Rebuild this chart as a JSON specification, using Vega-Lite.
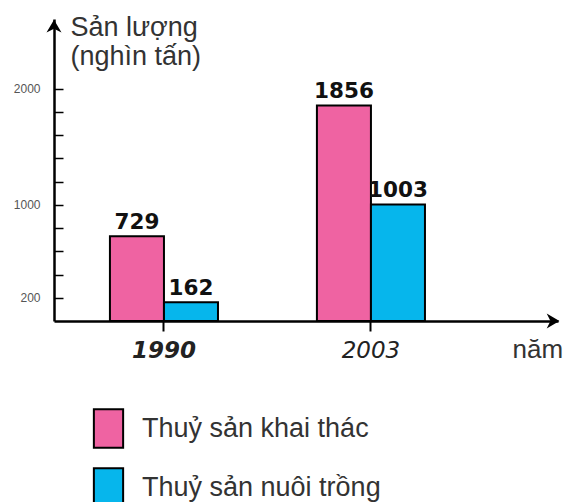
{
  "$schema": "https://vega.github.io/schema/vega-lite/v6.json",
  "autosize": "none",
  "width": 504,
  "height": 302,
  "padding": {"left": 54, "top": 19, "right": 10, "bottom": 181},
  "background": "white",
  "config": {
    "view": {"stroke": null},
    "font": "Liberation Sans"
  },
  "resolve": {"scale": {"x": "independent"}, "axis": {"x": "independent"}},
  "layer": [
    {
      "data": {
        "values": [
          {"year": "1990", "type": "Thuỷ sản khai thác", "value": 729},
          {"year": "1990", "type": "Thuỷ sản nuôi trồng", "value": 162},
          {"year": "2003", "type": "Thuỷ sản khai thác", "value": 1856},
          {"year": "2003", "type": "Thuỷ sản nuôi trồng", "value": 1003}
        ]
      },
      "layer": [
        {
          "mark": {"type": "bar", "stroke": "black", "strokeWidth": 2},
          "encoding": {
            "x": {
              "field": "year", "type": "nominal",
              "scale": {"paddingInner": 0.478, "paddingOuter": 0.4565, "align": 0.296},
              "axis": {
                "title": "năm",
                "titleX": 458, "titleY": 36, "titleAlign": "left", "titleBaseline": "alphabetic",
                "titleFont": "Liberation Sans", "titleFontSize": 26, "titleFontWeight": "normal", "titleColor": "#333",
                "labelAngle": 0,
                "labelFont": "DejaVu Sans", "labelFontSize": 23, "labelFontStyle": "italic",
                "labelFontWeight": {"condition": {"test": "datum.label == '1990'", "value": "bold"}, "value": "normal"},
                "labelColor": "#222", "labelBaseline": "alphabetic", "labelPadding": 26,
                "domainColor": "black", "domainWidth": 2.5,
                "tickColor": "black", "tickWidth": 2, "tickSize": 10
              }
            },
            "xOffset": {"field": "type", "type": "nominal", "scale": {"paddingInner": 0, "paddingOuter": 0}},
            "y": {
              "field": "value", "type": "quantitative",
              "scale": {"domain": [0, 2600], "nice": false, "zero": true},
              "axis": {
                "title": ["Sản lượng", "(nghìn tấn)"],
                "titleAngle": 0, "titleX": 16, "titleY": 16, "titleAlign": "left", "titleBaseline": "alphabetic",
                "titleFont": "Liberation Sans", "titleFontSize": 27, "titleFontWeight": "normal", "titleColor": "#333", "titleLineHeight": 29,
                "values": [200, 400, 600, 800, 1000, 1200, 1400, 1600, 1800, 2000],
                "tickCount": 20,
                "labelExpr": "(datum.value == 200 || datum.value == 1000 || datum.value == 2000) ? datum.label : ''",
                "labelOverlap": false,
                "format": "d",
                "labelFont": "Liberation Sans", "labelFontSize": 12, "labelColor": "#555",
                "tickSize": -9, "labelPadding": 23,
                "tickColor": "black", "tickWidth": 1.5,
                "domainColor": "black", "domainWidth": 2.5,
                "grid": false
              }
            },
            "color": {
              "field": "type", "type": "nominal",
              "scale": {"domain": ["Thuỷ sản khai thác", "Thuỷ sản nuôi trồng"], "range": ["#EF63A2", "#06B6EC"]},
              "legend": {
                "orient": "none", "legendX": 34, "legendY": 389, "direction": "vertical",
                "title": null, "padding": 0,
                "symbolType": "M-0.76,-1L0.76,-1L0.76,1L-0.76,1Z", "symbolSize": 1482,
                "symbolStrokeColor": "black", "symbolStrokeWidth": 2, "symbolOpacity": 1,
                "labelFont": "Liberation Sans", "labelFontSize": 27, "labelColor": "#333",
                "labelOffset": 13, "rowPadding": 12, "labelLimit": 400
              }
            }
          }
        },
        {
          "mark": {"type": "text", "dy": -7, "baseline": "alphabetic", "font": "DejaVu Sans", "fontWeight": "bold", "fontSize": 21.5, "fill": "#111"},
          "encoding": {
            "x": {"field": "year", "type": "nominal"},
            "xOffset": {"field": "type", "type": "nominal"},
            "y": {"field": "value", "type": "quantitative"},
            "text": {"field": "value", "type": "quantitative", "format": "d"}
          }
        }
      ]
    },
    {
      "data": {
        "values": [
          {"pos": 98.8, "value": 0, "dir": "right"},
          {"pos": 0, "value": 2530, "dir": "up"}
        ]
      },
      "mark": {"type": "point", "filled": true, "size": 225, "fill": "black", "opacity": 1},
      "encoding": {
        "x": {"field": "pos", "type": "quantitative", "scale": {"domain": [0, 100], "nice": false, "zero": false}, "axis": null},
        "y": {"field": "value", "type": "quantitative"},
        "shape": {
          "field": "dir", "type": "nominal",
          "scale": {"domain": ["right", "up"], "range": ["M1,0L-0.7,1L-0.2,0L-0.7,-1Z", "M0,-1L1,0.7L0,0.2L-1,0.7Z"]},
          "legend": null
        }
      }
    }
  ]
}
